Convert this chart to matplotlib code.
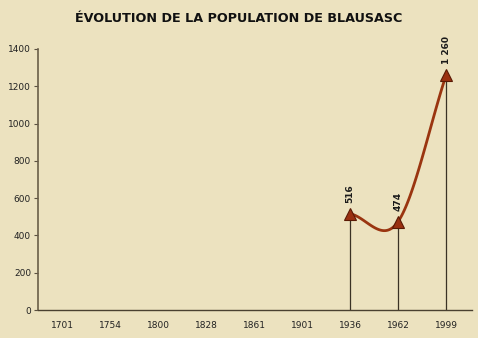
import numpy as np
import matplotlib
matplotlib.use("Agg")
import matplotlib.pyplot as plt

years = ["1701", "1754", "1800", "1828", "1861", "1901", "1936", "1962", "1999"]
pop_years_idx = [6, 7, 8]
population = [516, 474, 1260]
labels = ["516", "474", "1 260"]
yticks = [0, 200, 400, 600, 800, 1000, 1200, 1400]

bg = "#ECE2BF"
fig = plt.figure(figsize=(4.78, 3.38), dpi=100, facecolor=bg)
ax = fig.add_axes([38/478, 28/338, (472-38)/478, (310-49)/338], facecolor=bg)

# Catmull-Rom style smoothing (Hermite with neighbour-secant tangents)
x = np.array(pop_years_idx, dtype=float)
y = np.array(population, dtype=float)
n = len(x)
m = np.zeros(n)
m[0] = (y[1]-y[0])/(x[1]-x[0])
m[-1] = (y[-1]-y[-2])/(x[-1]-x[-2])
for i in range(1, n-1):
    m[i] = (y[i+1]-y[i-1])/(x[i+1]-x[i-1])
xs, ys = [], []
for i in range(n-1):
    hh = x[i+1]-x[i]
    t = np.linspace(0, 1, 60)
    h00 = 2*t**3-3*t**2+1; h10 = t**3-2*t**2+t
    h01 = -2*t**3+3*t**2; h11 = t**3-t**2
    s = h00*y[i] + h10*hh*m[i] + h01*y[i+1] + h11*hh*m[i+1]
    xs.extend(x[i]+t*hh); ys.extend(s)

for xi, yi in zip(pop_years_idx, population):
    ax.plot([xi, xi], [0, yi], color="#3a3225", lw=0.9, zorder=2)

ax.plot(xs, ys, color="#9a3510", lw=2.0, zorder=3, solid_capstyle="round")
ax.plot(pop_years_idx, population, linestyle="none", marker="^", markersize=8,
        markerfacecolor="#9a3010", markeredgecolor="#5a1a05", markeredgewidth=0.8, zorder=4)

for xi, yi, lab in zip(pop_years_idx, population, labels):
    ax.annotate(lab, (xi, yi), xytext=(0, 8), textcoords="offset points",
                rotation=90, ha="center", va="bottom", fontsize=6.5,
                fontweight="bold", color="#1a1a1a")

ax.set_xlim(-0.5, 8.54)
ax.set_ylim(0, 1400)
ax.set_xticks(range(len(years)))
ax.set_xticklabels(years, fontsize=6.5, color="#222222")
ax.set_yticks(yticks)
ax.set_yticklabels([str(v) for v in yticks], fontsize=6.5, color="#222222")
ax.tick_params(axis="x", length=0, pad=8)
ax.tick_params(axis="y", length=3, width=0.8, color="#5a5040", pad=2)
for sp in ["top", "right"]:
    ax.spines[sp].set_visible(False)
ax.spines["left"].set_color("#6a5e48")
ax.spines["left"].set_linewidth(1.2)
ax.spines["bottom"].set_color("#4a4030")
ax.spines["bottom"].set_linewidth(1.0)

fig.text(0.5, 1 - 18.5/338, "ÉVOLUTION DE LA POPULATION DE BLAUSASC", ha="center", va="center",
         fontsize=9.2, fontweight="bold", color="#111111")

fig.savefig("out.png", dpi=100, facecolor=bg)
